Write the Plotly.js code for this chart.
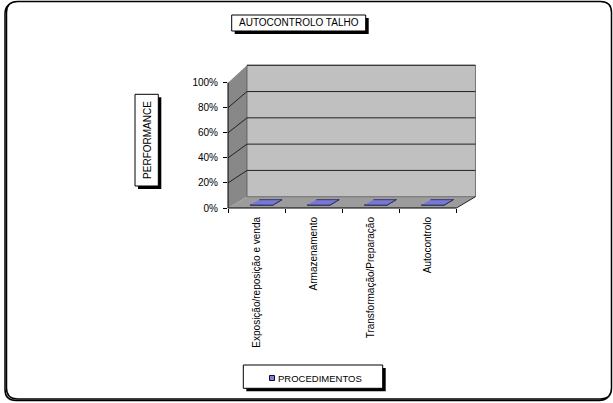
<!DOCTYPE html>
<html><head><meta charset="utf-8">
<script src="https://cdn.plot.ly/plotly-3.0.1.min.js"></script>
<style>html,body{margin:0;padding:0;background:#fff}#chart{width:613px;height:403px}</style>
</head><body><div id="chart"></div>
<script>
// ---- data ----
const chartTitle = 'AUTOCONTROLO TALHO';
const yAxisTitle = 'PERFORMANCE';
const seriesName = 'PROCEDIMENTOS';
const categories = ['Exposição/reposição e venda', 'Armazenamento', 'Transformação/Preparação', 'Autocontrolo'];
const values = [0, 0, 0, 0];
const yTickVals = [0, 0.2, 0.4, 0.6, 0.8, 1];
const yTickText = ['0%', '20%', '40%', '60%', '80%', '100%'];

// ---- geometry / style ----
const W = 613, H = 403;
const M = {l: 228, r: 138, t: 65, b: 195};
const PW = W - M.l - M.r, PH = H - M.t - M.b;
const n = categories.length;
const XR = [-0.5, n - 0.5 + 0.325], YR = [0, 1.141];
const DX = 19, DY0 = 11.3, DY1 = 17.4;
const BAR_HALF = 0.2, D0 = 0.26, D1 = 0.74;
const FONT = 'Liberation Sans, Arial, sans-serif';

const xs = XR[1] - XR[0], ys = YR[1] - YR[0];
const depthUp = (v, d) => (DY0 + (DY1 - DY0) * v) * d;
const PX = (x, d) => (x - XR[0]) / xs + DX * d / PW;
const PY = (v, d) => (v - YR[0]) / ys + depthUp(v, d) / PH;
const DXD = (x, d) => x + DX * d * xs / PW;
const DYD = (v, d) => v + depthUp(v, d) * ys / PH;
const ax = px => (px - M.l) / PW;
const ay = py => (M.t + PH - py) / PH;

const poly = pts => 'M' + pts.map(p => p[0].toFixed(5) + ',' + p[1].toFixed(5)).join('L') + 'Z';
const shapes = [];
const addPoly = (pts, fill, lc, lw) => shapes.push({type: 'path', xref: 'paper', yref: 'paper', path: poly(pts), fillcolor: fill, line: {color: lc || 'rgba(0,0,0,0)', width: lw || 0}, layer: 'below'});
const addLine = (x0, y0, x1, y1, c, w) => shapes.push({type: 'line', xref: 'paper', yref: 'paper', x0, y0, x1, y1, line: {color: c, width: w}, layer: 'below'});
const addRectPx = (x0, y0, x1, y1, fill, lc, lw) => shapes.push({type: 'rect', xref: 'paper', yref: 'paper', x0: ax(x0), y0: ay(y1), x1: ax(x1), y1: ay(y0), fillcolor: fill, line: {color: lc || 'rgba(0,0,0,0)', width: lw || 0}, layer: 'above'});

function roundRect(x0, y0, x1, y1, r) {
  const P = (x, y) => ax(x).toFixed(5) + ',' + ay(y).toFixed(5);
  return 'M' + P(x0 + r, y0) + 'L' + P(x1 - r, y0) + 'Q' + P(x1, y0) + ' ' + P(x1, y0 + r) +
    'L' + P(x1, y1 - r) + 'Q' + P(x1, y1) + ' ' + P(x1 - r, y1) +
    'L' + P(x0 + r, y1) + 'Q' + P(x0, y1) + ' ' + P(x0, y1 - r) +
    'L' + P(x0, y0 + r) + 'Q' + P(x0, y0) + ' ' + P(x0 + r, y0) + 'Z';
}
shapes.push({type: 'path', xref: 'paper', yref: 'paper', path: roundRect(5, 3, 610, 400.5, 11), line: {color: '#000', width: 1.5}, layer: 'below'});
shapes.push({type: 'path', xref: 'paper', yref: 'paper', path: roundRect(6.5, 1.5, 611.5, 399, 11), line: {color: '#000', width: 1.5}, fillcolor: '#fff', layer: 'below'});

const xa = XR[0], xb = n - 0.5;
addPoly([[PX(xa, 0), PY(0, 0)], [PX(xb, 0), PY(0, 0)], [PX(xb, 1), PY(0, 1)], [PX(xa, 1), PY(0, 1)]], '#9c9c9c');
addPoly([[PX(xa, 0), PY(0, 0)], [PX(xa, 0), PY(1, 0)], [PX(xa, 1), PY(1, 1)], [PX(xa, 1), PY(0, 1)]], '#888888');
addPoly([[PX(xa, 1), PY(0, 1)], [PX(xb, 1), PY(0, 1)], [PX(xb, 1), PY(1, 1)], [PX(xa, 1), PY(1, 1)]], '#c0c0c0', '#555555', 0.8);
yTickVals.forEach(v => {
  if (v === 0) return;
  addLine(PX(xa, 1), PY(v, 1), PX(xb, 1), PY(v, 1), '#222', 1);
  if (v < 1) addLine(PX(xa, 0), PY(v, 0), PX(xa, 1), PY(v, 1), '#222', 1);
});
addLine(PX(xb, 0), PY(0, 0), PX(xb, 1), PY(0, 1), '#222', 1);
addLine(PX(xa, 0), PY(0, 0), PX(xb, 0), PY(0, 0), '#000', 1);
addLine(PX(xa, 0), PY(0, 0), PX(xa, 0), PY(1, 0), '#000', 1);

addRectPx(234.7, 18, 368.7, 34, '#000');
addRectPx(231.7, 15, 365.7, 31, '#fff', '#000', 1);
addRectPx(138, 97.3, 161.3, 189, '#000');
addRectPx(135, 94.3, 158.3, 186, '#fff', '#000', 1);
addRectPx(246.3, 368, 385.7, 391.3, '#000');
addRectPx(243.3, 365, 382.7, 388.3, '#fff', '#000', 1);
addRectPx(269.5, 375.5, 274.5, 380.5, '#8080e0', '#111', 1);

const frontX = [], frontY = [], sideX = [], sideY = [], topX = [], topY = [];
values.forEach((v, i) => {
  const x0 = i - BAR_HALF, x1 = i + BAR_HALF;
  const push = (AX, AY, pts) => { pts.forEach(p => { AX.push(p[0]); AY.push(p[1]); }); AX.push(null); AY.push(null); };
  push(frontX, frontY, [[DXD(x0, D0), DYD(0, D0)], [DXD(x1, D0), DYD(0, D0)], [DXD(x1, D0), DYD(v, D0)], [DXD(x0, D0), DYD(v, D0)]]);
  push(sideX, sideY, [[DXD(x1, D0), DYD(0, D0)], [DXD(x1, D1), DYD(0, D1)], [DXD(x1, D1), DYD(v, D1)], [DXD(x1, D0), DYD(v, D0)]]);
  push(topX, topY, [[DXD(x0, D0), DYD(v, D0)], [DXD(x1, D0), DYD(v, D0)], [DXD(x1, D1), DYD(v, D1)], [DXD(x0, D1), DYD(v, D1)]]);
});
const face = (X, Y, c) => ({type: 'scatter', mode: 'lines', x: X, y: Y, fill: 'toself', fillcolor: c, line: {color: '#2a2a50', width: 0.8}, name: seriesName, showlegend: false, hoverinfo: 'skip', connectgaps: false});
const data = [face(frontX, frontY, '#8a8ae6'), face(sideX, sideY, '#5c5cb0'), face(topX, topY, '#7777d6')];

const annotations = [
  {xref: 'paper', yref: 'paper', x: ax(298.7), y: ay(23), text: chartTitle, showarrow: false, xanchor: 'center', yanchor: 'middle', font: {family: FONT, size: 10, color: '#000'}},
  {xref: 'paper', yref: 'paper', x: ax(146.7), y: ay(140.2), text: yAxisTitle, textangle: -90, showarrow: false, xanchor: 'center', yanchor: 'middle', font: {family: FONT, size: 10, color: '#000'}},
  {xref: 'paper', yref: 'paper', x: ax(275.5), y: ay(378.2), text: seriesName, showarrow: false, xanchor: 'left', yanchor: 'middle', font: {family: FONT, size: 9.5, color: '#000'}}
];

const layout = {
  width: W, height: H,
  margin: M,
  paper_bgcolor: '#fff', plot_bgcolor: 'rgba(0,0,0,0)',
  showlegend: false,
  font: {family: FONT, size: 10, color: '#000'},
  xaxis: {type: 'linear', range: XR, tickvals: categories.map((c, i) => i), ticktext: categories, tickangle: -90,
    ticks: '', ticklabelstandoff: 6, showgrid: false, zeroline: false, showline: false, fixedrange: true,
    tickfont: {family: FONT, size: 10, color: '#000'},
    minor: {tickvals: categories.map((c, i) => i - 0.5).concat([n - 0.5]), ticks: 'outside', ticklen: 4, tickwidth: 1, tickcolor: '#000', showgrid: false}},
  yaxis: {range: YR, tickvals: yTickVals, ticktext: yTickText, ticks: 'outside', ticklen: 4, tickwidth: 1, tickcolor: '#000',
    ticklabelstandoff: 3, showgrid: false, zeroline: false, showline: false, fixedrange: true,
    tickfont: {family: FONT, size: 10, color: '#000'}},
  shapes, annotations
};
Plotly.newPlot('chart', data, layout, {displayModeBar: false, staticPlot: true});
</script>
</body></html>
